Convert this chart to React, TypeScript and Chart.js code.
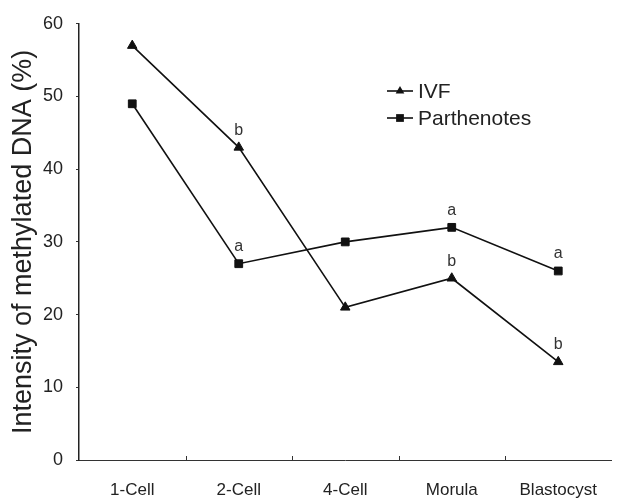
import React, { useEffect, useRef } from "react";
import { Chart, registerables } from "chart.js";

Chart.register(...registerables);

const categories = ["1-Cell", "2-Cell", "4-Cell", "Morula", "Blastocyst"];
const ivfValues = [57, 43, 21, 25, 13.5];
const partValues = [49, 27, 30, 32, 26];
const ivfLetters = ["", "b", "", "b", "b"];
const partLetters = ["", "a", "", "a", "a"];
const yTicks = [0, 10, 20, 30, 40, 50, 60];
const seriesNames = ["IVF", "Parthenotes"];

const FONT = "'Liberation Sans', Arial, sans-serif";

function drawMarker(ctx: CanvasRenderingContext2D, style: string, x: number, y: number, r: number) {
  ctx.beginPath();
  if (style === "triangle") {
    for (let k = 0; k < 3; k++) {
      const a = -Math.PI / 2 + (k * 2 * Math.PI) / 3;
      const px = x + Math.cos(a) * r;
      const py = y + Math.sin(a) * r;
      if (k === 0) ctx.moveTo(px, py);
      else ctx.lineTo(px, py);
    }
    ctx.closePath();
  } else {
    const s = Math.SQRT1_2 * r;
    ctx.rect(x - s, y - s, 2 * s, 2 * s);
  }
  ctx.fill();
}

const overlayPlugin = {
  id: "overlay",
  afterDatasetsDraw(chart: any) {
    const ctx = chart.ctx;
    const xs = chart.scales.x;
    const area = chart.chartArea;
    ctx.save();
    // upward x tick marks between categories
    ctx.strokeStyle = "#333";
    ctx.lineWidth = 1;
    for (let i = 0; i < categories.length - 1; i++) {
      const px = Math.round((xs.getPixelForValue(i) + xs.getPixelForValue(i + 1)) / 2) + 0.5;
      ctx.beginPath();
      ctx.moveTo(px, area.bottom);
      ctx.lineTo(px, area.bottom - 4);
      ctx.stroke();
    }
    // significance letters
    ctx.fillStyle = "#333";
    ctx.font = `16px ${FONT}`;
    ctx.textAlign = "center";
    ctx.textBaseline = "middle";
    [ivfLetters, partLetters].forEach((letters, di) => {
      const meta = chart.getDatasetMeta(di);
      letters.forEach((l, i) => {
        if (!l) return;
        const pt = meta.data[i];
        ctx.fillText(l, pt.x, pt.y - 17);
      });
    });
    // legend
    const legendY = [91, 118];
    const styles = ["triangle", "rect"];
    seriesNames.forEach((name, i) => {
      const y = legendY[i];
      ctx.strokeStyle = "#111";
      ctx.lineWidth = 1.6;
      ctx.beginPath();
      ctx.moveTo(387, y);
      ctx.lineTo(413, y);
      ctx.stroke();
      ctx.fillStyle = "#111";
      drawMarker(ctx, styles[i], 400, y, i === 0 ? 5 : 5.5);
      ctx.fillStyle = "#222";
      ctx.font = `21px ${FONT}`;
      ctx.textAlign = "left";
      ctx.textBaseline = "middle";
      ctx.fillText(name, 418, y + 1);
    });
    ctx.restore();
  },
};

export default function App() {
  const ref = useRef<HTMLCanvasElement>(null);
  useEffect(() => {
    if (!ref.current) return;
    const chart = new Chart(ref.current, {
      type: "line",
      data: {
        labels: categories,
        datasets: [
          {
            label: seriesNames[0],
            data: ivfValues,
            borderColor: "#111",
            backgroundColor: "#111",
            borderWidth: 1.6,
            pointStyle: "triangle",
            pointRadius: 5.5,
            pointBorderWidth: 1,
            tension: 0,
          },
          {
            label: seriesNames[1],
            data: partValues,
            borderColor: "#111",
            backgroundColor: "#111",
            borderWidth: 1.6,
            pointStyle: "rect",
            pointRadius: 5.5,
            pointBorderWidth: 1,
            tension: 0,
          },
        ],
      },
      options: {
        animation: false,
        responsive: true,
        maintainAspectRatio: false,
        layout: { padding: { top: 18, right: 0, left: 0, bottom: 0 } },
        plugins: { legend: { display: false }, tooltip: { enabled: false } },
        scales: {
          x: {
            type: "category",
            offset: true,
            grid: { display: false, drawTicks: false },
            border: { display: true, color: "#333", width: 1 },
            ticks: {
              color: "#222",
              font: { family: FONT, size: 17 },
              padding: 20,
              maxRotation: 0,
            },
            afterFit(scale: any) {
              scale.height = 42;
            },
          },
          y: {
            min: 0,
            max: 60,
            afterBuildTicks(scale: any) {
              scale.ticks = yTicks.map((v) => ({ value: v }));
            },
            grid: { drawOnChartArea: false, tickLength: 3, color: "#333" },
            border: { display: true, color: "#222", width: 1.5 },
            ticks: {
              color: "#222",
              font: { family: FONT, size: 18 },
              padding: 13,
            },
            title: {
              display: true,
              text: "Intensity of methylated DNA (%)",
              color: "#222",
              font: { family: FONT, size: 27, weight: "normal" },
              padding: { top: 7, bottom: 0 },
            },
            afterFit(scale: any) {
              scale.width = 79;
            },
          },
        },
      },
      plugins: [overlayPlugin],
    });
    return () => chart.destroy();
  }, []);
  return (
    <div style={{ position: "absolute", left: 0, top: 0, width: 618, height: 502, background: "#fff" }}>
      <canvas ref={ref} />
    </div>
  );
}
